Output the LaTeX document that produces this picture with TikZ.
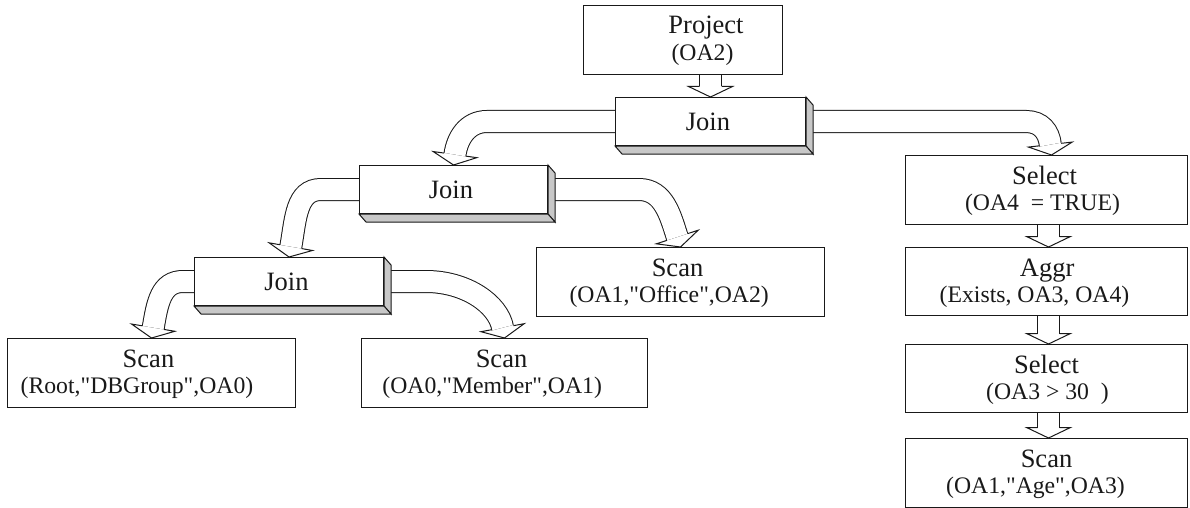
\documentclass[tikz,border=0pt]{standalone}
\usepackage{fontspec}
\setmainfont{Liberation Serif}[Ligatures=TeXOff]
\usetikzlibrary{calc}
\pgfdeclarelayer{arrowlayer}
\pgfsetlayers{arrowlayer,main}
\definecolor{ink}{RGB}{25,25,25}
\definecolor{depthgray}{RGB}{200,200,200}
\tikzset{
  opbox/.style={draw=ink, fill=white, line width=1pt, inner sep=0pt,
    anchor=north west, minimum height=69pt},
  joinface/.style={draw=ink, fill=white, line width=1pt, inner sep=0pt,
    anchor=north west, minimum height=48pt},
  depthside/.style={draw=ink, fill=depthgray, line width=1pt, line join=miter},
  optitle/.style={font=\fontsize{26.5}{30}\selectfont, anchor=base,
    inner sep=0pt, text=ink},
  opsub/.style={font=\fontsize{23.7}{28}\selectfont, anchor=base,
    inner sep=0pt, text=ink},
  fatstem/.style={draw=ink, line width=1pt, double=white, double distance=21pt},
  headshape/.style={draw=ink, fill=white, line width=1pt, line join=miter},
}
% shaded bottom and right faces of a join block
\newcommand\joindepth[1]{%
  \draw[depthside] (#1.north east) -- ++(7,8) -- ($(#1.south east)+(7,8)$)
    -- (#1.south east) -- cycle;
  \draw[depthside] (#1.south west) -- ++(7,8) -- ($(#1.south east)+(7,8)$)
    -- (#1.south east) -- cycle;}
% open head of a wide arrow: #1 tip, #2 tilt, #3 name of the base centre
\newcommand\fathead[3]{%
  \begin{scope}[shift={#1}, rotate=#2]
    \coordinate (#3) at (0,-10.5);
    \filldraw[headshape] (-11,-10.5) -- (-22,-10.5) -- (0,0) -- (22,-10.5)
      -- (11,-10.5);
  \end{scope}}
\begin{document}
\begin{tikzpicture}[x=1pt, y=-1pt]
\useasboundingbox (0,0) rectangle (1190,508);

% operator boxes
\node[opbox, minimum width=199pt] (p)   at (583,5)   {};
\node[opbox, minimum width=282pt] (sl1) at (905,155) {};
\node[opbox, minimum width=282pt, minimum height=68pt] (ag)  at (905,247) {};
\node[opbox, minimum width=282pt, minimum height=68pt] (sl2) at (905,344) {};
\node[opbox, minimum width=282pt] (sa)  at (905,438) {};
\node[opbox, minimum width=288pt] (so)  at (536,247) {};
\node[opbox, minimum width=288pt] (s1)  at (7,338)   {};
\node[opbox, minimum width=286pt] (s2)  at (361,338) {};

% join blocks
\node[joinface, minimum width=190pt] (tj) at (615,97)  {};
\node[joinface, minimum width=188pt] (mj) at (359,165) {};
\node[joinface, minimum width=189pt] (lj) at (194,257) {};
\joindepth{tj}
\joindepth{mj}
\joindepth{lj}

% labels
\node[optitle] (pt)   at ($(p.north)+(23,29)$)     {Project};
\node[opsub]   (ps)   at ($(p.north)+(19.5,55.5)$) {(OA2)};
\node[optitle] (tjt)  at ($(tj.north)+(-2.5,33)$)  {Join};
\node[optitle] (mjt)  at ($(mj.north)+(-2.5,33)$)  {Join};
\node[optitle] (ljt)  at ($(lj.north)+(-2.5,33)$)  {Join};
\node[optitle] (s1t)  at ($(s1.north)+(-3,29)$)    {Scan};
\node[opsub]   (s1s)  at ($(s1.north)+(-14.5,55.5)$) {(Root,"DBGroup",OA0)};
\node[optitle] (s2t)  at ($(s2.north)+(-3,29)$)    {Scan};
\node[opsub]   (s2s)  at ($(s2.north)+(-12.3,55.5)$) {(OA0,"Member",OA1)};
\node[optitle] (sot)  at ($(so.north)+(-3,29)$)    {Scan};
\node[opsub]   (sos)  at ($(so.north)+(-11.3,55.5)$) {(OA1,"Office",OA2)};
\node[optitle] (sl1t) at ($(sl1.north)+(-2,29)$)   {Select};
\node[opsub]   (sl1s) at ($(sl1.north)+(-4,55.5)$) {(OA4\ \ = TRUE)};
\node[optitle] (agt)  at ($(ag.north)+(0.7,29)$)   {Aggr};
\node[opsub]   (ags)  at ($(ag.north)+(-12,55.5)$) {(Exists, OA3, OA4)};
\node[optitle] (sl2t) at ($(sl2.north)+(0,29)$)    {Select};
\node[opsub]   (sl2s) at ($(sl2.north)+(1,55.5)$)  {(OA3 > 30\ \ )};
\node[optitle] (sat)  at ($(sa.north)+(0,29)$)     {Scan};
\node[opsub]   (sas)  at ($(sa.north)+(-11,55.5)$) {(OA1,"Age",OA3)};

% wide data-flow arrows, kept behind the boxes
\begin{pgfonlayer}{arrowlayer}
  % Project -> top join
  \fathead{(tj.north)}{0}{h0}
  \draw[fatstem] (tj.north |- p.south) -- (h0);
  % top join -> middle join
  \fathead{(mj.north)}{-8}{h1}
  \draw[fatstem] (tj.west) -- ++(-128,0)
    .. controls +(-20,0) and +(2.2,-16) .. (h1);
  % top join -> select
  \fathead{($(sl1.north)+(5,0)$)}{6.5}{h2}
  \draw[fatstem] ($(tj.east)+(7,0)$) -- ++(213,0)
    .. controls +(15,0) and +(-1.5,-13) .. (h2);
  % middle join -> lower join
  \fathead{(lj.north)}{-10}{h3}
  \draw[fatstem] (mj.west) -- ++(-38,0)
    .. controls +(-25,0) and +(4.9,-27.6) .. (h3);
  % middle join -> office scan
  \fathead{(so.north)}{18}{h4}
  \draw[fatstem] ($(mj.east)+(7,0)$) -- ++(84,0)
    .. controls +(25,0) and +(-6.8,-20.9) .. (h4);
  % lower join -> group scan
  \fathead{(s1.north)}{-9.5}{h5}
  \draw[fatstem] (lj.west) -- ++(-11,0)
    .. controls +(-22,0) and +(4.1,-24.7) .. (h5);
  % lower join -> member scan
  \fathead{(s2.north)}{10.5}{h6}
  \draw[fatstem] ($(lj.east)+(7,0)$) -- ++(35,0)
    .. controls +(40,0) and +(-4.4,-23.6) .. (h6);
  % right-hand chain
  \fathead{($(ag.north)+(2,0)$)}{0}{h7}
  \draw[fatstem] ($(sl1.south)+(2,0)$) -- (h7);
  \fathead{($(sl2.north)+(2,0)$)}{0}{h8}
  \draw[fatstem] ($(ag.south)+(2,0)$) -- (h8);
  \fathead{($(sa.north)+(2,0)$)}{0}{h9}
  \draw[fatstem] ($(sl2.south)+(2,0)$) -- (h9);
\end{pgfonlayer}
\end{tikzpicture}
\end{document}
